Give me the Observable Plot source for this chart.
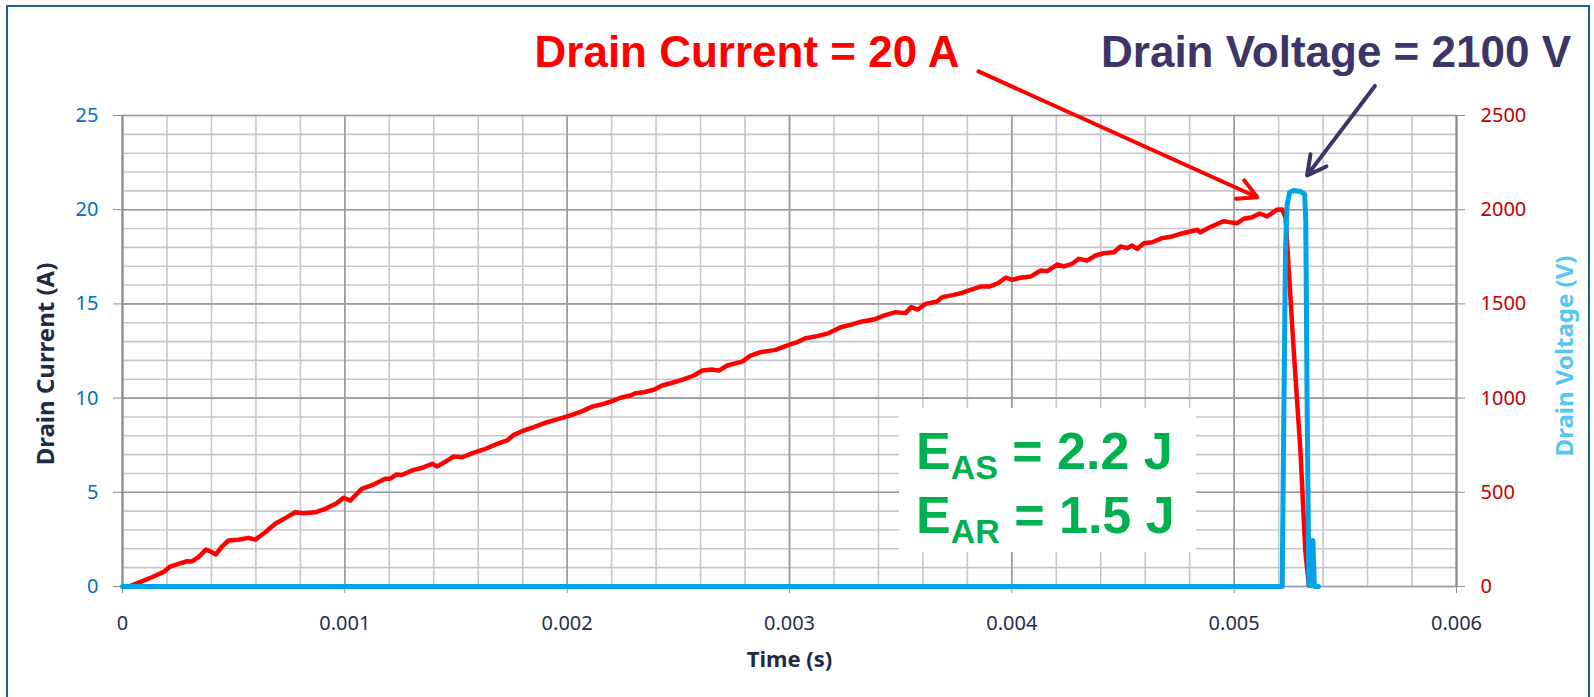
<!DOCTYPE html>
<html>
<head>
<meta charset="utf-8">
<script src="https://cdn.jsdelivr.net/npm/d3@7"></script>
<script src="https://cdn.jsdelivr.net/npm/@observablehq/plot@0.6"></script>
<style>
  html, body { margin: 0; padding: 0; background: #fff; overflow: hidden; }
  #wrap { position: relative; width: 1594px; height: 697px; overflow: hidden; }
  #border { position: absolute; left: 6px; top: 5px; width: 1584px; height: 760px;
            border: 2.5px solid #1f5c9c; box-sizing: border-box; pointer-events: none; z-index: 2; }
</style>
</head>
<body>
<div id="wrap"><div id="border"></div></div>
<script>
// Drain current during the avalanche test (time in s, current in A)
const currentT = [0.000027,0.000087,0.000132,0.000184,0.000214,0.000252,0.000290,0.000312,0.000342,0.000375,
  0.000394,0.000420,0.000447,0.000477,0.000522,0.000567,0.000597,0.000642,0.000687,0.000732,
  0.000777,0.000814,0.000867,0.000912,0.000964,0.000994,0.001024,0.001076,0.001129,0.001182,
  0.001204,0.001234,0.001255,0.001310,0.001348,0.001393,0.001415,0.001453,0.001490,0.001528,
  0.001573,0.001633,0.001685,0.001730,0.001760,0.001805,0.001850,0.001910,0.001963,0.002015,
  0.002068,0.002113,0.002165,0.002210,0.002240,0.002285,0.002307,0.002345,0.002390,0.002427,
  0.002465,0.002520,0.002570,0.002607,0.002652,0.002682,0.002720,0.002787,0.002825,0.002870,
  0.002937,0.002997,0.003035,0.003072,0.003125,0.003177,0.003230,0.003274,0.003327,0.003379,
  0.003424,0.003477,0.003522,0.003547,0.003577,0.003612,0.003664,0.003687,0.003739,0.003775,
  0.003814,0.003859,0.003897,0.003934,0.003972,0.004002,0.004039,0.004084,0.004129,0.004159,
  0.004204,0.004234,0.004271,0.004301,0.004339,0.004376,0.004414,0.004459,0.004489,0.004519,
  0.004541,0.004563,0.004594,0.004631,0.004676,0.004721,0.004758,0.004803,0.004834,0.004848,
  0.004886,0.004931,0.004953,0.004976,0.005013,0.005043,0.005081,0.005115,0.005148,0.005193,
  0.005216,0.005231,0.005268,0.005298,0.005320,0.005336];
const currentA = [0,0.27,0.49,0.76,1.06,1.20,1.34,1.33,1.56,1.96,
  1.87,1.70,2.12,2.44,2.48,2.58,2.49,2.88,3.33,3.63,
  3.94,3.89,3.94,4.12,4.42,4.71,4.56,5.18,5.41,5.72,
  5.72,5.95,5.92,6.19,6.30,6.51,6.37,6.63,6.90,6.86,
  7.08,7.31,7.57,7.75,8.05,8.28,8.46,8.72,8.90,9.08,
  9.31,9.55,9.70,9.87,10.02,10.14,10.26,10.31,10.44,10.67,
  10.79,10.98,11.20,11.46,11.52,11.46,11.73,11.94,12.26,12.44,
  12.56,12.83,12.97,13.18,13.29,13.45,13.76,13.89,14.07,14.17,
  14.38,14.56,14.51,14.83,14.70,15.00,15.13,15.36,15.48,15.58,
  15.75,15.92,15.92,16.07,16.39,16.28,16.39,16.45,16.77,16.74,
  17.09,16.99,17.13,17.39,17.30,17.57,17.69,17.74,18.05,17.96,
  18.10,17.92,18.22,18.27,18.49,18.58,18.72,18.84,18.93,18.80,
  19.04,19.28,19.39,19.34,19.28,19.52,19.60,19.80,19.64,20.00,
  20.01,19.60,12.50,7.20,1.90,0.05];

// Drain voltage (time in s, voltage in V)
const voltageT = [0,0.005216,0.005224,0.005231,0.005238,0.005249,0.005267,0.005299,0.005317,0.005322,
  0.005328,0.005336,0.005345,0.005354,0.005361,0.005379];
const voltageV = [0,0,987,1783,2022,2091,2102,2097,2081,1943,
  987,10,5,244,0,0];

// Axis ticks
const timeTicks = [0, 0.001, 0.002, 0.003, 0.004, 0.005, 0.006];
const currentTicks = [0, 5, 10, 15, 20, 25];
const timeMinor = d3.range(31).map(i => i * 0.0002);
const currentMinor = d3.range(26);

// Annotations (x in s, y on the current axis)
const headlines = [
  {t: 0.002809, y: 28.3, text: "Drain Current = 20 A", color: "#ff0000"},
  {t: 0.005458, y: 28.3, text: "Drain Voltage = 2100 V", color: "#3d3568"}
];
const pointers = [
  {x1: 0.00385, y1: 27.34, x2: 0.005104, y2: 20.66, color: "#ff0000"},
  {x1: 0.005633, y1: 26.57, x2: 0.005328, y2: 21.82, color: "#3d3568"}
];
const energyBox = [{x1: 0.003495, x2: 0.00483, y1: 1.8, y2: 9.45}];
const energyLines = [
  {t: 0.003571, y: 6.21, sub: "AS", value: "= 2.2 J"},
  {t: 0.003571, y: 2.81, sub: "AR", value: "= 1.5 J"}
];

const currentRows = currentT.map((t, i) => ({t, a: currentA[i]}));
const voltageRows = voltageT.map((t, i) => ({t, v: voltageV[i]}));

const minorGrey = "#c6c6cc";
const majorGrey = "#9a9aa4";
const axisGrey = "#8c8c96";

const chart = Plot.plot({
  width: 1594,
  height: 697,
  marginLeft: 122,
  marginRight: 138,
  marginTop: 115,
  marginBottom: 111,
  style: {fontFamily: "Noto Sans", fontSize: "20px", background: "white"},
  x: {domain: [0, 0.006]},
  y: {domain: [0, 25]},
  color: {type: "identity"},
  marks: [
    Plot.gridX(timeMinor, {stroke: minorGrey, strokeOpacity: 1, strokeWidth: 1.6}),
    Plot.gridY(currentMinor, {stroke: minorGrey, strokeOpacity: 1, strokeWidth: 1.6}),
    Plot.gridX(timeTicks, {stroke: majorGrey, strokeOpacity: 1, strokeWidth: 1.6}),
    Plot.gridY(currentTicks, {stroke: majorGrey, strokeOpacity: 1, strokeWidth: 1.6}),
    Plot.ruleX([0, 0.006], {stroke: axisGrey, strokeWidth: 2}),
    Plot.axisX({ticks: timeTicks, tickSize: 7, tickPadding: 22, stroke: axisGrey, fill: "#1f2d4d",
      tickFormat: d => String(+d.toFixed(3)), label: null}),
    Plot.axisY({anchor: "left", ticks: currentTicks, tickSize: 9, tickPadding: 15, stroke: axisGrey,
      fill: "#0070c0", label: null}),
    Plot.axisY({anchor: "right", ticks: currentTicks, tickSize: 8, tickPadding: 16, stroke: axisGrey,
      fill: "#c00000", tickFormat: d => String(d * 100), label: null}),
    Plot.rect(energyBox, {x1: "x1", x2: "x2", y1: "y1", y2: "y2", fill: "white"}),
    Plot.line(currentRows, {x: "t", y: "a", stroke: "#ff0000", strokeWidth: 4.5, strokeLinejoin: "round"}),
    Plot.line(voltageRows, {x: "t", y: d => d.v / 100, stroke: "#00a2e8", strokeWidth: 5, strokeLinejoin: "round"}),
    Plot.arrow(pointers, {x1: "x1", y1: "y1", x2: "x2", y2: "y2", stroke: "color", strokeWidth: 4,
      headLength: 8, headAngle: 56}),
    Plot.text(headlines, {x: "t", y: "y", text: "text", fill: "color", fontSize: 44, fontWeight: "bold",
      fontFamily: "Liberation Sans, Arial, sans-serif"}),
    Plot.text(["Drain Current (A)"], {text: d => d, frameAnchor: "left", textAnchor: "middle", rotate: -90,
      dx: -76, dy: 13, fontWeight: "bold", fontSize: 24, fill: "#1f2a44"}),
    Plot.text(["Drain Voltage (V)"], {text: d => d, frameAnchor: "right", textAnchor: "middle", rotate: -90,
      dx: 109, dy: 5, fontWeight: "bold", fontSize: 24, fill: "#55c5f5"}),
    Plot.text(["Time (s)"], {text: d => d, frameAnchor: "bottom", dy: 80,
      fontWeight: "bold", fontSize: 22, fill: "#1f2a44"})
  ]
});

// Energy figures with subscripted symbols, placed through the chart's scales
const sx = chart.scale("x"), sy = chart.scale("y");
const eg = d3.select(chart).append("g")
  .attr("font-family", "Liberation Sans, Arial, sans-serif")
  .attr("font-weight", "bold")
  .attr("fill", "#00b050")
  .attr("text-anchor", "start")
  .style("white-space", "pre");
energyLines.forEach(e => {
  const txt = eg.append("text").attr("x", sx.apply(e.t)).attr("y", sy.apply(e.y)).attr("font-size", 52);
  txt.append("tspan").text("E");
  txt.append("tspan").attr("font-size", 34).attr("dy", 10).text(e.sub);
  txt.append("tspan").attr("dy", -10).text(" " + e.value);
});

document.getElementById("wrap").appendChild(chart);
</script>
</body>
</html>
